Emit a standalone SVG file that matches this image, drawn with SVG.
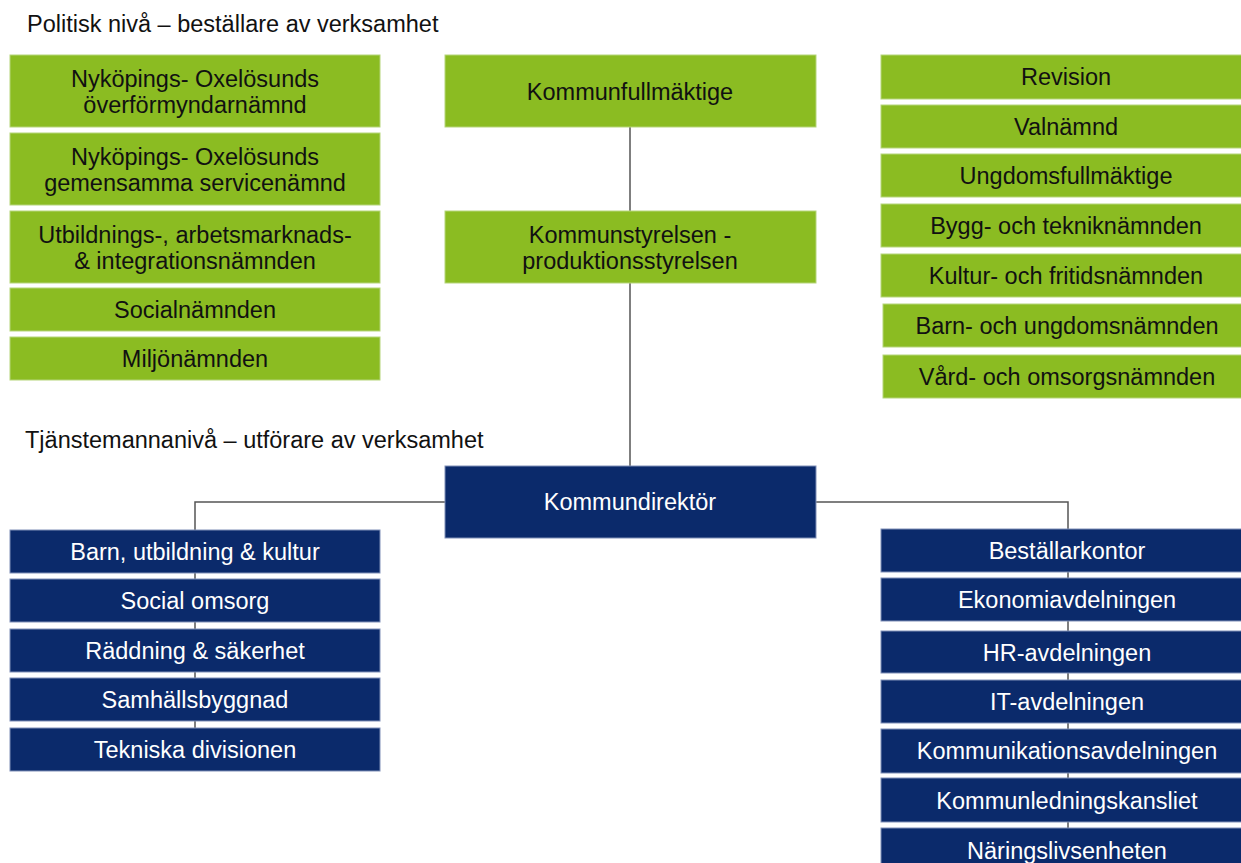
<svg xmlns="http://www.w3.org/2000/svg" width="1241" height="863" viewBox="0 0 1241 863">
<style>
.g{fill:#8bbc22;stroke:#b5d57a;stroke-width:1}
.b{fill:#0b2a6b;stroke:#8090b8;stroke-width:1}
text{font-family:"Liberation Sans",Arial,sans-serif;font-size:23.5px;text-anchor:middle}
.tk{fill:#111}
.tw{fill:#fff}
.h{text-anchor:start;fill:#111}
.c{stroke:#555;stroke-width:1.5;fill:none}
</style>
<rect width="1241" height="863" fill="#fff"/>
<text class="h" x="27" y="32">Politisk nivå – beställare av verksamhet</text>
<text class="h" x="25" y="448">Tjänstemannanivå – utförare av verksamhet</text>
<g id="connectors">
<line class="c" x1="630" y1="127" x2="630" y2="211"/>
<line class="c" x1="630" y1="283" x2="630" y2="466"/>
<polyline class="c" points="445,502 195,502 195,771"/>
<polyline class="c" points="816,502 1068,502 1068,863"/>
</g>
<g id="n-overformyndar"><rect class="g" x="10" y="55" width="370" height="72"/><text class="tk" x="195" y="87">Nyköpings- Oxelösunds</text><text class="tk" x="195" y="113">överförmyndarnämnd</text></g>
<g id="n-service"><rect class="g" x="10" y="133" width="370" height="72"/><text class="tk" x="195" y="165">Nyköpings- Oxelösunds</text><text class="tk" x="195" y="191">gemensamma servicenämnd</text></g>
<g id="n-utbildning"><rect class="g" x="10" y="211" width="370" height="72"/><text class="tk" x="195" y="243">Utbildnings-, arbetsmarknads-</text><text class="tk" x="195" y="269">&amp; integrationsnämnden</text></g>
<g id="n-social"><rect class="g" x="10" y="288" width="370" height="43"/><text class="tk" x="195" y="318">Socialnämnden</text></g>
<g id="n-miljo"><rect class="g" x="10" y="337" width="370" height="43"/><text class="tk" x="195" y="367">Miljönämnden</text></g>
<g id="n-kf"><rect class="g" x="445" y="55" width="371" height="72"/><text class="tk" x="630" y="100">Kommunfullmäktige</text></g>
<g id="n-ks"><rect class="g" x="445" y="211" width="371" height="72"/><text class="tk" x="630" y="243">Kommunstyrelsen -</text><text class="tk" x="630" y="269">produktionsstyrelsen</text></g>
<g id="n-revision"><rect class="g" x="881" y="55" width="370" height="44"/><text class="tk" x="1066" y="85">Revision</text></g>
<g id="n-valnamnd"><rect class="g" x="881" y="105" width="370" height="43"/><text class="tk" x="1066" y="135">Valnämnd</text></g>
<g id="n-ungdom"><rect class="g" x="881" y="154" width="370" height="43"/><text class="tk" x="1066" y="184">Ungdomsfullmäktige</text></g>
<g id="n-bygg"><rect class="g" x="881" y="204" width="370" height="43"/><text class="tk" x="1066" y="234">Bygg- och tekniknämnden</text></g>
<g id="n-kultur"><rect class="g" x="881" y="254" width="370" height="43"/><text class="tk" x="1066" y="284">Kultur- och fritidsnämnden</text></g>
<g id="n-barn"><rect class="g" x="883" y="304" width="370" height="43"/><text class="tk" x="1067" y="334">Barn- och ungdomsnämnden</text></g>
<g id="n-vard"><rect class="g" x="883" y="355" width="370" height="43"/><text class="tk" x="1067" y="385">Vård- och omsorgsnämnden</text></g>
<g id="n-kd"><rect class="b" x="445" y="466" width="371" height="72"/><text class="tw" x="630" y="510">Kommundirektör</text></g>
<g id="n-buk"><rect class="b" x="10" y="530" width="370" height="43"/><text class="tw" x="195" y="560">Barn, utbildning &amp; kultur</text></g>
<g id="n-so"><rect class="b" x="10" y="579" width="370" height="43"/><text class="tw" x="195" y="609">Social omsorg</text></g>
<g id="n-rs"><rect class="b" x="10" y="629" width="370" height="43"/><text class="tw" x="195" y="659">Räddning &amp; säkerhet</text></g>
<g id="n-sb"><rect class="b" x="10" y="678" width="370" height="43"/><text class="tw" x="195" y="708">Samhällsbyggnad</text></g>
<g id="n-td"><rect class="b" x="10" y="728" width="370" height="43"/><text class="tw" x="195" y="758">Tekniska divisionen</text></g>
<g id="n-bestall"><rect class="b" x="881" y="529" width="372" height="43"/><text class="tw" x="1067" y="559">Beställarkontor</text></g>
<g id="n-ekonomi"><rect class="b" x="881" y="578" width="372" height="43"/><text class="tw" x="1067" y="608">Ekonomiavdelningen</text></g>
<g id="n-hr"><rect class="b" x="881" y="631" width="372" height="42"/><text class="tw" x="1067" y="661">HR-avdelningen</text></g>
<g id="n-it"><rect class="b" x="881" y="680" width="372" height="43"/><text class="tw" x="1067" y="710">IT-avdelningen</text></g>
<g id="n-komm"><rect class="b" x="881" y="729" width="372" height="44"/><text class="tw" x="1067" y="759">Kommunikationsavdelningen</text></g>
<g id="n-kls"><rect class="b" x="881" y="778" width="372" height="44"/><text class="tw" x="1067" y="809">Kommunledningskansliet</text></g>
<g id="n-naring"><rect class="b" x="881" y="828" width="372" height="44"/><text class="tw" x="1067" y="859">Näringslivsenheten</text></g>
</svg>
